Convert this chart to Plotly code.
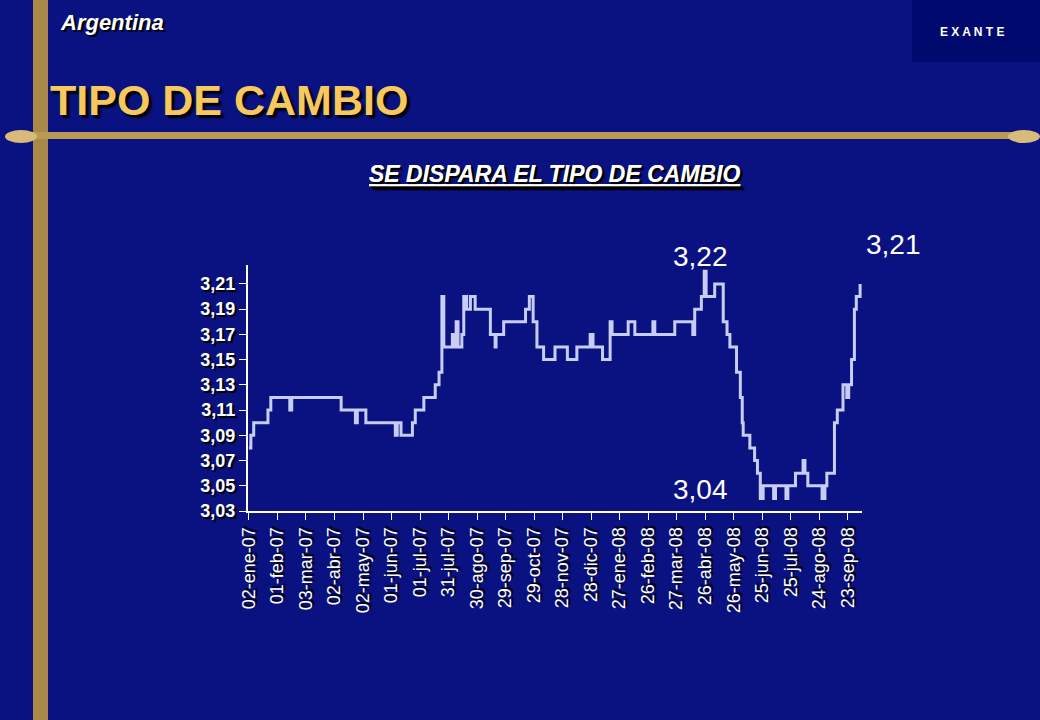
import plotly.graph_objects as go
import pandas as pd

days = [0,2,5,20,23,43,45,97,112,114,123,154,156,160,172,175,184,196,200,203,205,214,217,218,220,224,226,229,233,238,
        254,259,260,268,291,295,299,303,310,322,335,345,359,362,372,380,382,399,406,425,427,448,467,469,476,479,481,490,
        499,503,506,511,513,517,519,520,525,527,532,535,538,541,552,554,565,567,575,583,585,588,603,606,608,616,619,625,
        629,631,634,637,639,643]
values = [3.08,3.09,3.10,3.11,3.12,3.11,3.12,3.11,3.10,3.11,3.10,3.09,3.10,3.09,3.10,3.11,3.12,3.13,3.14,3.20,3.16,3.17,3.16,3.18,3.16,3.17,3.20,3.19,3.20,3.19,
          3.17,3.16,3.17,3.18,3.19,3.20,3.18,3.16,3.15,3.16,3.15,3.16,3.17,3.16,3.15,3.18,3.17,3.18,3.17,3.18,3.17,3.18,3.17,3.19,3.20,3.22,3.20,3.21,
          3.18,3.17,3.16,3.16,3.14,3.12,3.10,3.09,3.09,3.08,3.07,3.06,3.04,3.05,3.04,3.05,3.04,3.05,3.06,3.07,3.06,3.05,3.04,3.05,3.06,3.10,3.11,3.13,
          3.12,3.13,3.15,3.19,3.20,3.21]
tick_labels = ["02-ene-07","01-feb-07","03-mar-07","02-abr-07","02-may-07","01-jun-07","01-jul-07","31-jul-07",
               "30-ago-07","29-sep-07","29-oct-07","28-nov-07","28-dic-07","27-ene-08","26-feb-08","27-mar-08",
               "26-abr-08","26-may-08","25-jun-08","25-jul-08","24-ago-08","23-sep-08"]
y_ticks = [3.03,3.05,3.07,3.09,3.11,3.13,3.15,3.17,3.19,3.21]

start = pd.Timestamp("2007-01-02")
dates = [start + pd.Timedelta(days=d) for d in days]
tick_dates = [start + pd.Timedelta(days=30*i) for i in range(len(tick_labels))]

SH = "2px 2px 1px black"

fig = go.Figure()
fig.add_trace(go.Scatter(x=dates, y=values, mode="lines", line=dict(color="#c8cdf5", width=3, shape="hv"),
                         hoverinfo="skip"))

W, H = 1040, 720
def px(x): return x / W
def py(y): return 1 - y / H

fig.update_layout(
    autosize=True, margin=dict(l=0, r=0, t=0, b=0, pad=0),
    paper_bgcolor="#0a1282", plot_bgcolor="rgba(0,0,0,0)",
    separators=",.", showlegend=False,
    font=dict(family="Liberation Sans, Arial", color="white"),
    xaxis=dict(domain=[px(248), px(862)], range=[start - pd.Timedelta(days=1), start + pd.Timedelta(days=645)],
               tickvals=tick_dates, ticktext=tick_labels, tickangle=-90, automargin=False,
               tickfont=dict(size=18, color="white", shadow=SH),
               showgrid=False, zeroline=False, showline=True, linecolor="white", linewidth=2,
               ticks="outside", ticklen=7, tickcolor="white"),
    yaxis=dict(domain=[py(511), py(265)], range=[3.03, 3.225], tickvals=y_ticks, automargin=False,
               tickformat=".2f", tickfont=dict(size=18, color="white", weight="bold", shadow=SH),
               showgrid=False, zeroline=False, showline=True, linecolor="white", linewidth=2,
               ticks="outside", ticklen=7, tickcolor="white"),
)

shapes = [
    dict(type="rect", xref="paper", yref="paper", x0=px(33), x1=px(48), y0=0, y1=1,
         fillcolor="#a8894a", line=dict(width=0), layer="below"),
    dict(type="rect", xref="paper", yref="paper", x0=px(20), x1=px(1025), y0=py(139), y1=py(132),
         fillcolor="#b89a55", line=dict(width=0), layer="below"),
    dict(type="circle", xref="paper", yref="paper", x0=px(5), x1=px(37), y0=py(143), y1=py(130),
         fillcolor="#d8bb7a", line=dict(width=0), layer="below"),
    dict(type="circle", xref="paper", yref="paper", x0=px(1008), x1=px(1040), y0=py(143), y1=py(130),
         fillcolor="#d8bb7a", line=dict(width=0), layer="below"),
    dict(type="rect", xref="paper", yref="paper", x0=px(912), x1=px(1040), y0=py(62), y1=1,
         fillcolor="#000a6e", line=dict(width=0), layer="below"),
]
fig.update_layout(shapes=shapes)

def ann(x, y, text, size, color="white", bold=False, italic=False, xanchor="left", shadow=SH):
    t = text
    if bold: t = "<b>" + t + "</b>"
    if italic: t = "<i>" + t + "</i>"
    fig.add_annotation(xref="paper", yref="paper", x=px(x), y=py(y), text=t, showarrow=False,
                       xanchor=xanchor, yanchor="middle", font=dict(size=size, color=color, shadow=shadow))

ann(58, 22, "Argentina", 22, bold=True, italic=True)
ann(48, 100, "TIPO DE CAMBIO", 43, color="#f7c85e", bold=True, shadow="3px 3px 2px black")
ann(555, 174, "<u>SE DISPARA EL TIPO DE CAMBIO</u>", 23, bold=True, italic=True, xanchor="center")
ann(700, 256, "3,22", 28, xanchor="center", shadow="none")
ann(893, 244, "3,21", 28, xanchor="center", shadow="none")
ann(700, 489, "3,04", 28, xanchor="center", shadow="none")
ann(938, 32, "E X A N T E", 12, bold=True, shadow="none")

fig.write_html("out.html", default_width="1040px", default_height="720px",
               config={"displayModeBar": False},
               post_script="document.body.style.margin='0';document.body.style.overflow='hidden';Plotly.Plots.resize(document.getElementById('{plot_id}'));")
